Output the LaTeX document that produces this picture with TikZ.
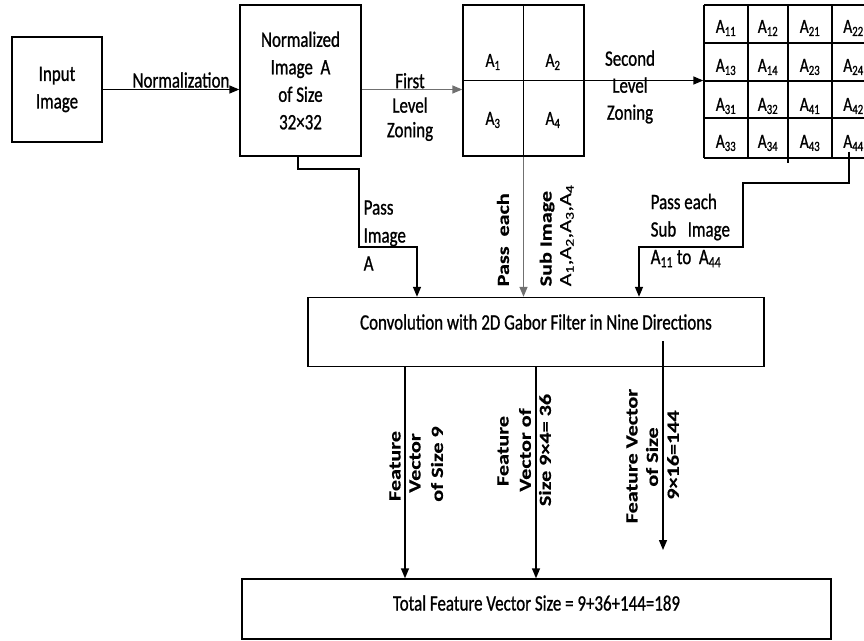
\documentclass[tikz,border=0pt]{standalone}
\usepackage{fontspec}
\setmainfont{Carlito}[FakeStretch=0.77,FakeBold=0.9]
\newfontfamily\rotfont{Carlito}[FakeStretch=1.3,FakeBold=0.6]
\usetikzlibrary{arrows.meta}
\definecolor{lgray}{HTML}{707070}
\begin{document}
\begin{tikzpicture}[x=1pt,y=-1pt,line width=1.4pt,
  box/.style={draw,inner sep=0pt,line width=1.4pt,align=center,font=\fontsize{22}{27.5}\selectfont},
  lbl/.style={inner sep=0pt,align=center,font=\fontsize{22}{27}\selectfont},
  cell/.style={inner sep=0pt,font=\fontsize{20}{24}\selectfont},
  arr/.style={-{Triangle[width=8pt,length=10pt]}},
  rotb/.style={rotate=90,inner sep=0pt,font=\rotfont\bfseries\fontsize{17}{20}\selectfont},
  rotr/.style={rotate=90,inner sep=0pt,font=\rotfont\fontsize{17}{20}\selectfont}]
\useasboundingbox (0,0) rectangle (864,640);
% boxes
\node[box,minimum width=90pt,minimum height=105pt] (in) at (57,89.5) {Input\\Image};
\node[box,minimum width=121pt,minimum height=151pt] (norm) at (300.5,80.5) {Normalized\\Image\ \ A\\of Size\\32×32};
\node[box,minimum width=121pt,minimum height=151pt] (g1) at (523.5,80.5) {};
\draw (g1.north) -- (g1.south);
\draw (g1.west) -- (g1.east);
\node[cell] (a1) at (493,62) {A\textsubscript{1}};
\node[cell] (a2) at (553,62) {A\textsubscript{2}};
\node[cell] (a3) at (493,120) {A\textsubscript{3}};
\node[cell] (a4) at (553,120) {A\textsubscript{4}};
% second grid
\node[inner sep=0pt,minimum width=160pt,minimum height=153pt] (g2) at (784,81.5) {};
\foreach \yy in {5,43,81,118,158} \draw (704,\yy) -- (864,\yy);
\foreach \xx in {704,748,788,832} \draw (\xx,5) -- (\xx,158);
\draw (788,158) -- (788,163);
\foreach \lab/\xx/\yy in {11/726/28,12/768/28,21/810/28,22/853.5/28,
  13/726/67,14/768/67,23/810/67,24/853.5/67,
  31/726/106,32/768/106,41/810/106,42/853.5/106,
  33/726/143,34/768/143,43/810/143,44/853.5/143}
  \node[cell] (c\lab) at (\xx,\yy) {A\textsubscript{\lab}};
% conv and total boxes
\node[draw,inner sep=0pt,minimum width=456pt,minimum height=69pt] (conv) at (536,332) {};
\node[lbl] (convtxt) at (536,322) {Convolution with 2D Gabor Filter in Nine Directions};
\node[draw,inner sep=0pt,minimum width=589pt,minimum height=60pt] (tot) at (536.5,609) {};
\node[lbl] (tottxt) at (536.5,603) {Total Feature Vector Size = 9+36+144=189};
% top arrows
\draw[arr] (in.east) -- (in.east -| norm.west);
\node[lbl] (normlab) at (181,80) {Normalization};
\draw[arr,lgray] (norm.east |- in.east) -- (g1.west |- in.east);
\node[lbl,font=\fontsize{22}{24.5}\selectfont] (flz) at (410,107) {First\\Level\\Zoning};
\draw[arr] (g1.east) -- (g1.east -| g2.west);
\node[lbl] (slz) at (630,87) {Second\\Level\\Zoning};
% pass image A
\draw[arr] (298,0 |- norm.south) -- (298,169) -- (359,169) -- (359,247) -- (417,247) -- (417,0 |- conv.north);
\node[lbl,align=left,anchor=west,font=\fontsize{22}{28}\selectfont] (pia) at (363,235.5) {Pass\\Image\\A};
% pass each sub image A1..A4
\draw[arr,lgray] (g1.south) -- (g1.south |- conv.north);
\node[rotb,anchor=west] (pe) at (503,287) {Pass\ \ each};
\node[rotb,anchor=west] (si) at (547,287) {Sub Image};
\node[rotr,anchor=west] (alist) at (567,287) {A\textsubscript{1},A\textsubscript{2},A\textsubscript{3},A\textsubscript{4}};
% pass each sub image A11..A44
\draw[arr] (849,0 |- c44.south) -- (849,183) -- (743,183) -- (743,247) -- (639,247) -- (639,0 |- conv.north);
\node[lbl,align=left,anchor=west,font=\fontsize{22}{27.5}\selectfont] (pes) at (650,230.5) {Pass each\\Sub\ \ \ Image\\A\textsubscript{11} to\ \ A\textsubscript{44}};
% outputs
\draw[arr] (405,0 |- conv.south) -- (405,0 |- tot.north);
\draw[arr] (536,0 |- conv.south) -- (536,0 |- tot.north);
\draw[arr] (663,341) -- (663,550);
\node[rotb] (f1a) at (395,466) {Feature};
\node[rotb] (f1b) at (415,463) {Vector};
\node[rotb] (f1c) at (437,464) {of Size 9};
\node[rotb] (f2a) at (503,451) {Feature};
\node[rotb] (f2b) at (525,450) {Vector of};
\node[rotb] (f2c) at (545,450) {Size 9×4= 36};
\node[rotb] (f3a) at (632,456) {Feature Vector};
\node[rotb] (f3b) at (652,457) {of Size};
\node[rotb] (f3c) at (673,455) {9×16=144};
\end{tikzpicture}
\end{document}
